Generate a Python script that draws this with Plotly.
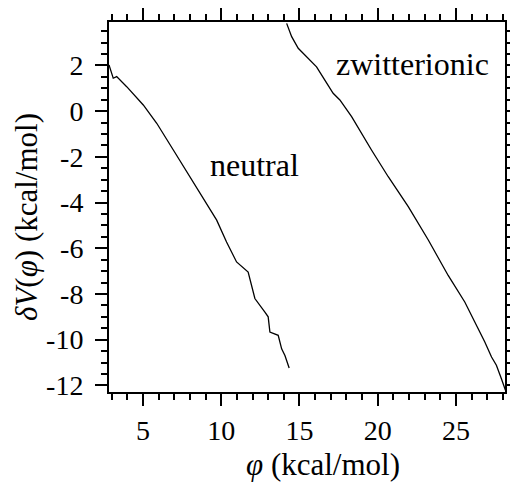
import plotly.graph_objects as go

neutral_phi = [2.83, 3.1, 3.32, 3.96, 5.02, 5.88, 6.94, 7.47, 8.64, 9.71, 10.34, 10.98, 11.72, 12.15, 12.79, 13.0, 13.11, 13.64, 13.86, 14.07, 14.34]
neutral_dv = [2.02, 1.44, 1.51, 1.07, 0.27, -0.53, -1.7, -2.28, -3.6, -4.77, -5.73, -6.6, -7.04, -8.2, -8.79, -9.0, -9.67, -9.81, -10.4, -10.69, -11.24]

zwit_phi = [14.18, 14.5, 14.92, 15.45, 16.09, 16.62, 17.15, 17.58, 18.33, 19.6, 20.67, 21.95, 23.23, 24.5, 25.56, 26.2, 26.84, 27.27, 27.58, 27.9, 28.16]
zwit_dv = [3.84, 3.26, 2.75, 2.38, 1.94, 1.36, 0.78, 0.49, -0.24, -1.7, -2.87, -4.18, -5.64, -7.19, -8.35, -9.23, -10.1, -10.76, -11.12, -11.71, -12.22]

x_tickvals = [5, 10, 15, 20, 25]
x_ticktext = ["5", "10", "15", "20", "25"]
y_tickvals = [2, 0, -2, -4, -6, -8, -10, -12]
y_ticktext = ["2", "0", "-2", "-4", "-6", "-8", "-10", "-12"]

x_range = [2.83, 28.13]
y_range = [-12.29, 3.9]

font = "'Liberation Serif', 'Times New Roman', Times, serif"

fig = go.Figure()
fig.add_trace(go.Scatter(x=neutral_phi, y=neutral_dv, mode="lines",
                         line=dict(color="black", width=1.3), showlegend=False))
fig.add_trace(go.Scatter(x=zwit_phi, y=zwit_dv, mode="lines",
                         line=dict(color="black", width=1.3), showlegend=False))

fig.add_annotation(x=12.15, y=-2.36, text="neutral", showarrow=False,
                   font=dict(family=font, size=32, color="black"))
fig.add_annotation(x=22.24, y=2.06, text="zwitterionic", showarrow=False,
                   font=dict(family=font, size=32, color="black"))

# axis titles as paper-positioned annotations
fig.add_annotation(xref="paper", yref="paper", x=0.54, y=-0.197, xanchor="center", yanchor="middle",
                   text="<i>φ</i> (kcal/mol)", showarrow=False,
                   font=dict(family=font, size=31, color="black"))
fig.add_annotation(xref="paper", yref="paper", x=-0.207, y=0.473, xanchor="center", yanchor="middle",
                   text="<i>δV</i>(<i>φ</i>) (kcal/mol)", showarrow=False, textangle=-90,
                   font=dict(family=font, size=31, color="black"))

axis_common = dict(showline=True, linewidth=2, linecolor="black", mirror="allticks",
                   ticks="outside", ticklen=12, tickwidth=2, tickcolor="black",
                   showgrid=False, zeroline=False, automargin=False,
                   tickfont=dict(family=font, size=28, color="black"))

fig.update_xaxes(range=x_range, tickmode="array", tickvals=x_tickvals, ticktext=x_ticktext,
                 ticklabelstandoff=0,
                 minor=dict(dtick=1, tick0=0, ticks="outside", ticklen=6, tickwidth=2, tickcolor="black"),
                 **axis_common)
fig.update_yaxes(range=y_range, tickmode="array", tickvals=y_tickvals, ticktext=y_ticktext,
                 ticklabelstandoff=6,
                 minor=dict(dtick=0.5, tick0=0, ticks="outside", ticklen=6, tickwidth=2, tickcolor="black"),
                 **axis_common)

fig.update_layout(width=510, height=484, margin=dict(l=109, r=5, t=22, b=92),
                  plot_bgcolor="white", paper_bgcolor="white",
                  font=dict(family=font, color="black"))

fig.write_html("out.html", config={"displayModeBar": False},
               post_script="document.body.style.margin='0';document.body.style.overflow='hidden';")
